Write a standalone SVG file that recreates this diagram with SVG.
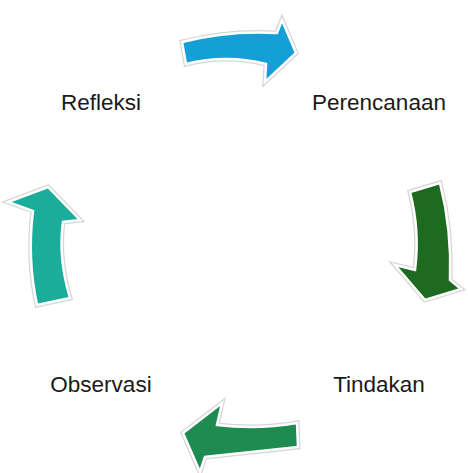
<svg xmlns="http://www.w3.org/2000/svg" width="468" height="473" viewBox="0 0 468 473">
<style>
.halo{fill:none;stroke:#d6d6d6;stroke-width:5;stroke-linejoin:miter}
.arr{stroke:#ffffff;stroke-width:2.5;stroke-linejoin:miter}
.lbl{font-family:"Liberation Sans",Arial,sans-serif;font-size:22.5px;fill:#1a1a1a;text-anchor:middle}
</style>
<rect width="468" height="473" fill="#ffffff"/>
<defs>
<path id="pTop" d="M182,42 Q228,30 277,33 L282,20 L296,53 L265,82 L266,64 Q226,54 186,64 Z"/>
<path id="pRight" d="M410,192 L440,183 Q452,230 450,280 L461,289 L425,300 L395,265 L415,270 Q420,230 410,192 Z"/>
<path id="pBottom" d="M297,423 L298,447 Q250,452 205,457 L200,472 L183,433 L222,403 L217,425 Q257,430 297,423 Z"/>
<path id="pLeft" d="M37,305 L70,298 Q58,258 63,222 L80,220 L48,187 L8,202 L33,211 Q27,258 37,305 Z"/>
</defs>
<g id="connectors">
<g id="arrow-top"><use href="#pTop" class="halo"/><use href="#pTop" class="arr" fill="#14a0d6"/></g>
<g id="arrow-right"><use href="#pRight" class="halo"/><use href="#pRight" class="arr" fill="#1d6a21"/></g>
<g id="arrow-bottom"><use href="#pBottom" class="halo"/><use href="#pBottom" class="arr" fill="#1e8b50"/></g>
<g id="arrow-left"><use href="#pLeft" class="halo"/><use href="#pLeft" class="arr" fill="#19ad9a"/></g>
</g>
<g id="node-refleksi"><text class="lbl" x="101" y="109.5">Refleksi</text></g>
<g id="node-perencanaan"><text class="lbl" x="379" y="109.5">Perencanaan</text></g>
<g id="node-tindakan"><text class="lbl" x="379" y="391.5">Tindakan</text></g>
<g id="node-observasi"><text class="lbl" x="101" y="391.5">Observasi</text></g>
</svg>
